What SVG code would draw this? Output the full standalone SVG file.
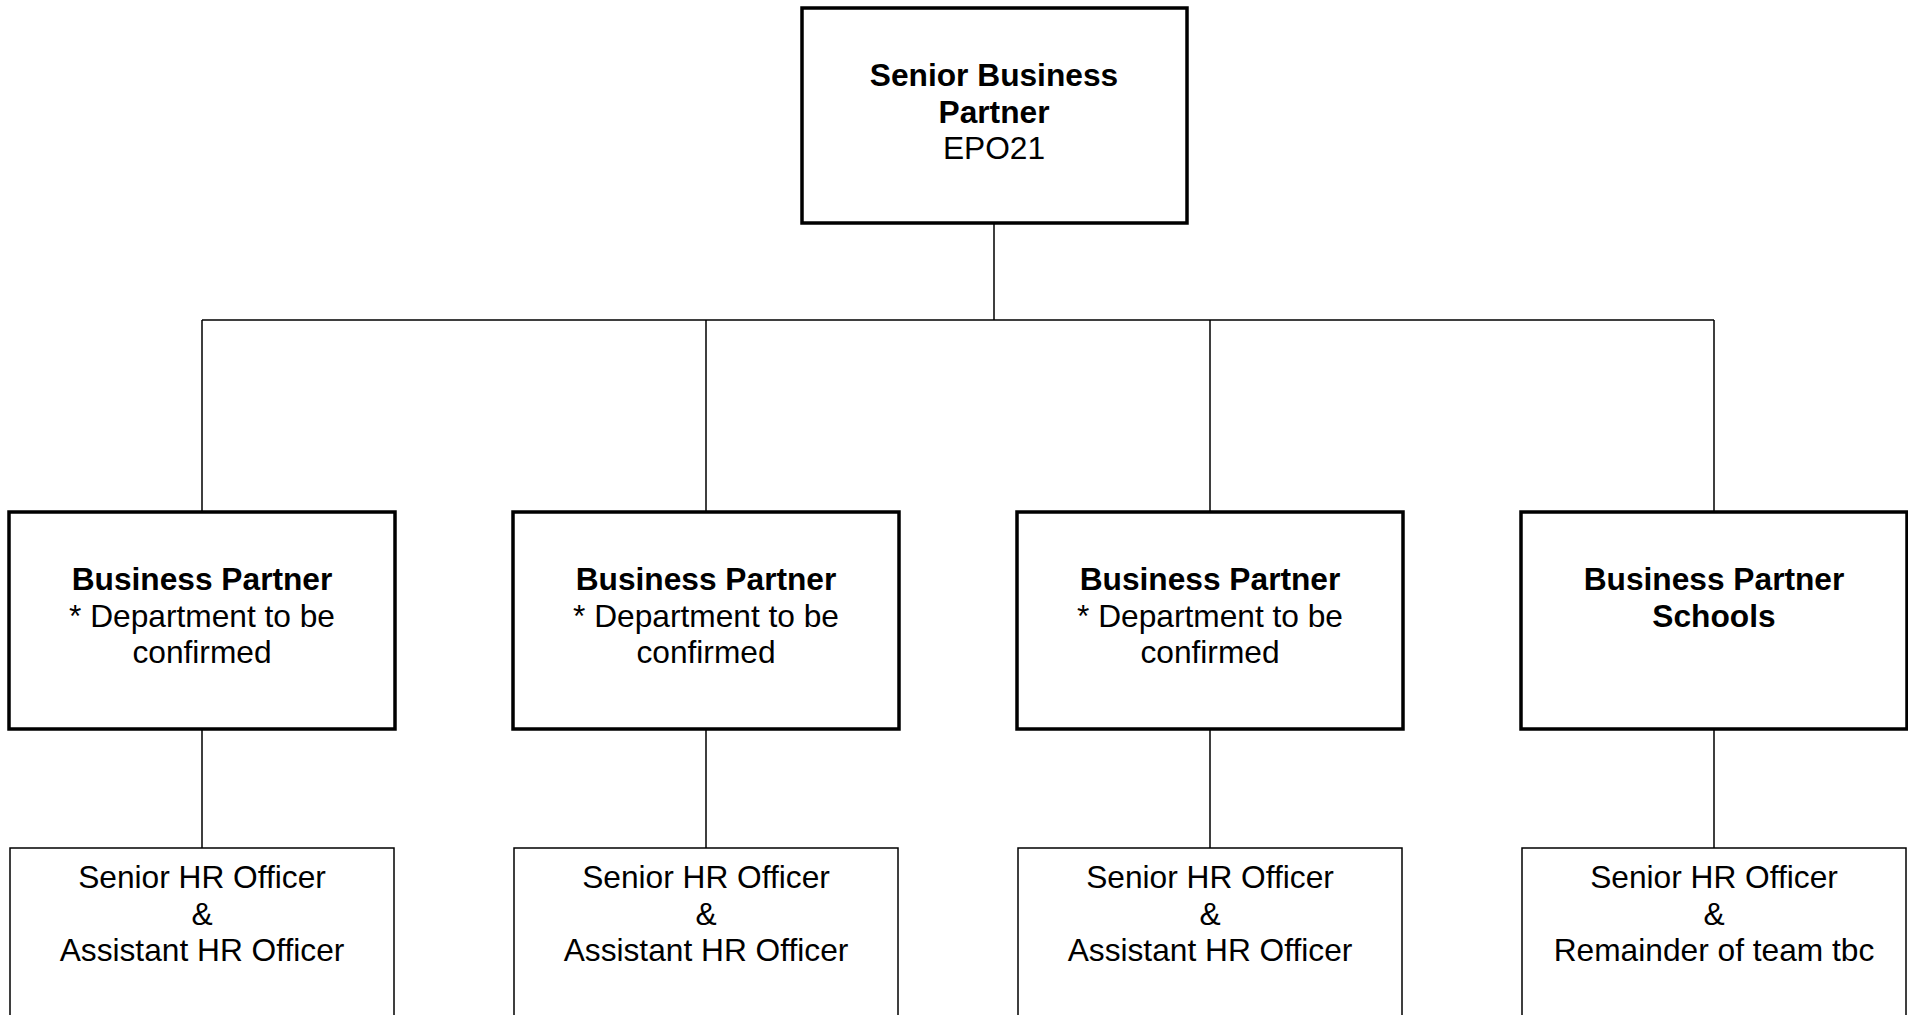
<svg xmlns="http://www.w3.org/2000/svg" width="1908" height="1015" viewBox="0 0 1908 1015">
<style>
.thick{fill:#fff;stroke:#000;stroke-width:3.5}
.thin{fill:#fff;stroke:#000;stroke-width:1.5}
.conn{fill:none;stroke:#000;stroke-width:1.5}
text{font-family:"Liberation Sans",Arial,sans-serif;font-size:31.7px;fill:#000;text-anchor:middle}
.b{font-weight:bold}
</style>
<rect width="1908" height="1015" fill="#fff"/>
<g id="connectors">
<path class="conn" d="M994 223V320M202 320H1714M202 320V512M706 320V512M1210 320V512M1714 320V512"/>
<path class="conn" d="M202 729V848M706 729V848M1210 729V848M1714 729V848"/>
</g>
<g id="senior-bp">
<rect class="thick" x="802" y="8" width="385" height="215"/>
<text x="994" y="86" class="b">Senior Business</text>
<text x="994" y="122.5" class="b">Partner</text>
<text x="994" y="159">EPO21</text>
</g>
<g id="bp1">
<rect class="thick" x="9" y="512" width="386" height="217"/>
<text x="202" y="590" class="b">Business Partner</text>
<text x="202" y="626.5">* Department to be</text>
<text x="202" y="663">confirmed</text>
</g>
<g id="bp2">
<rect class="thick" x="513" y="512" width="386" height="217"/>
<text x="706" y="590" class="b">Business Partner</text>
<text x="706" y="626.5">* Department to be</text>
<text x="706" y="663">confirmed</text>
</g>
<g id="bp3">
<rect class="thick" x="1017" y="512" width="386" height="217"/>
<text x="1210" y="590" class="b">Business Partner</text>
<text x="1210" y="626.5">* Department to be</text>
<text x="1210" y="663">confirmed</text>
</g>
<g id="bp4">
<rect class="thick" x="1521" y="512" width="386" height="217"/>
<text x="1714" y="590" class="b">Business Partner</text>
<text x="1714" y="626.5" class="b">Schools</text>
</g>
<g id="hr1">
<rect class="thin" x="10" y="848" width="384" height="200"/>
<text x="202" y="888">Senior HR Officer</text>
<text x="202" y="924.5">&amp;</text>
<text x="202" y="961">Assistant HR Officer</text>
</g>
<g id="hr2">
<rect class="thin" x="514" y="848" width="384" height="200"/>
<text x="706" y="888">Senior HR Officer</text>
<text x="706" y="924.5">&amp;</text>
<text x="706" y="961">Assistant HR Officer</text>
</g>
<g id="hr3">
<rect class="thin" x="1018" y="848" width="384" height="200"/>
<text x="1210" y="888">Senior HR Officer</text>
<text x="1210" y="924.5">&amp;</text>
<text x="1210" y="961">Assistant HR Officer</text>
</g>
<g id="hr4">
<rect class="thin" x="1522" y="848" width="384" height="200"/>
<text x="1714" y="888">Senior HR Officer</text>
<text x="1714" y="924.5">&amp;</text>
<text x="1714" y="961">Remainder of team tbc</text>
</g>
</svg>
